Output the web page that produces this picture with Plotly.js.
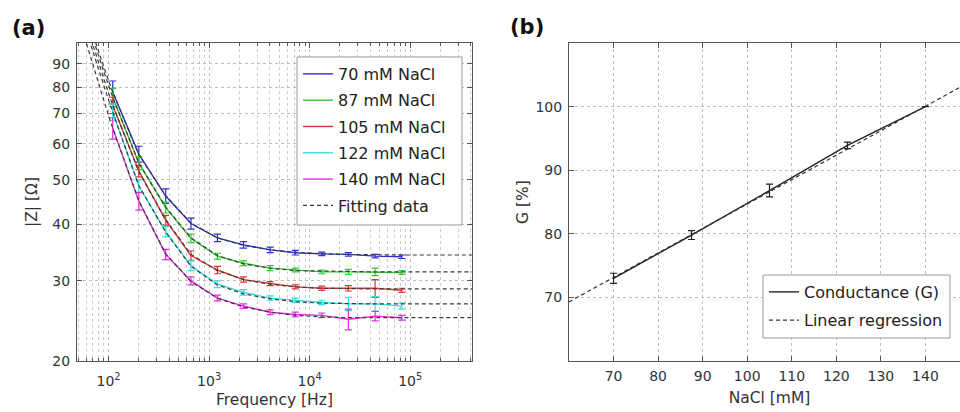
<!DOCTYPE html>
<html><head><meta charset="utf-8">
<script src="https://cdn.plot.ly/plotly-3.0.1.min.js"></script>
<style>html,body{margin:0;padding:0;overflow:hidden;background:#fff;width:960px;height:412px}#chart{width:1000px;height:412px}</style>
</head><body><div id="chart"></div>
<script>
// ---- Panel (a): impedance magnitude vs frequency ----
const freq = [110, 200, 370, 660, 1210, 2200, 4050, 7200, 13200, 24300, 44800, 82600];
const seriesNames = ['70 mM NaCl', '87 mM NaCl', '105 mM NaCl', '122 mM NaCl', '140 mM NaCl'];
const z70  = [78.0, 57.0, 46.1, 40.1, 37.3, 36.0, 35.1, 34.6, 34.4, 34.3, 34.0, 33.9];
const z87  = [76.0, 54.5, 43.5, 37.2, 34.0, 32.8, 32.0, 31.7, 31.4, 31.4, 31.4, 31.3];
const z105 = [73.0, 52.3, 40.8, 34.1, 31.7, 30.2, 29.6, 29.1, 28.9, 28.9, 28.9, 28.6];
const z122 = [70.5, 48.5, 38.5, 32.4, 29.5, 28.3, 27.5, 27.2, 26.9, 26.7, 26.7, 26.4];
const z140 = [65.0, 44.9, 34.3, 30.0, 27.5, 26.4, 25.6, 25.3, 25.2, 24.7, 25.1, 24.9];
const e70  = [4.5, 2.3, 1.7, 1.1, 0.7, 0.6, 0.5, 0.4, 0.3, 0.3, 0.3, 0.3];
const e87  = [3.5, 1.8, 1.2, 0.8, 0.5, 0.4, 0.4, 0.3, 0.3, 0.4, 0.6, 0.3];
const e105 = [3.0, 1.5, 1.0, 0.8, 0.6, 0.4, 0.3, 0.3, 0.3, 0.4, 1.3, 0.3];
const e122 = [3.0, 1.5, 1.0, 0.8, 0.5, 0.4, 0.3, 0.3, 0.3, 0.9, 1.0, 0.4];
const e140 = [3.5, 2.0, 0.9, 0.6, 0.4, 0.3, 0.3, 0.3, 0.3, 1.3, 0.6, 0.3];

const fitFreq = [55, 65, 75, 87, 100, 110, 200, 370, 660, 1210, 2200, 4050, 7200, 13200, 24300, 44800, 82600, 200000, 420000];
const fit70  = [122.8, 109.5, 99.5, 90.3, 82.7, 78.0, 56.8, 46.2, 40.2, 37.3, 35.9, 35.1, 34.7, 34.4, 34.3, 34.2, 34.2, 34.2, 34.2];
const fit87  = [120.6, 107.4, 97.4, 88.3, 80.7, 76.0, 54.4, 43.6, 37.3, 34.1, 32.7, 32.0, 31.6, 31.5, 31.4, 31.4, 31.4, 31.4, 31.4];
const fit105 = [116.5, 103.7, 93.9, 85.0, 77.6, 73.0, 52.1, 40.9, 34.3, 31.6, 30.2, 29.5, 29.1, 28.9, 28.8, 28.8, 28.8, 28.8, 28.8];
const fit122 = [112.9, 100.4, 90.9, 82.2, 74.9, 70.5, 48.6, 38.4, 32.3, 29.4, 28.1, 27.4, 27.0, 26.8, 26.7, 26.7, 26.7, 26.7, 26.7];
const fit140 = [106.7, 94.2, 84.9, 76.4, 69.3, 65.0, 45.0, 34.4, 29.9, 27.5, 26.3, 25.6, 25.2, 25.0, 24.9, 24.9, 24.9, 24.9, 24.9];

const zTickVals = [20, 30, 40, 50, 60, 70, 80, 90];
const fTickVals = [100, 1000, 10000, 100000];
const fTickText = ['10<sup>2</sup>', '10<sup>3</sup>', '10<sup>4</sup>', '10<sup>5</sup>'];

// ---- Panel (b): conductance vs NaCl ----
const nacl = [70, 87.5, 105, 122.5, 140];
const cond = [73.0, 79.8, 86.8, 93.9, 100.0];
const condErr = [0.8, 0.7, 1.0, 0.5, 0.0];
const regX = [60, 150];
const regY = [69.3, 103.9];
const naclTicks = [70, 80, 90, 100, 110, 120, 130, 140];
const gTicks = [70, 80, 90, 100];

const colors = ['#2f2fd0', '#30cc30', '#dc3434', '#30e0e0', '#dc30dc'];
const zData = [z70, z87, z105, z122, z140];
const eData = [e70, e87, e105, e122, e140];
const fitData = [fit70, fit87, fit105, fit122, fit140];

const traces = [];
zData.forEach((ys, i) => {
  traces.push({
    type: 'scatter', mode: 'lines', x: freq, y: ys, name: seriesNames[i],
    line: {color: colors[i], width: 1.4},
    error_y: {type: 'data', array: eData[i], visible: true, color: colors[i], thickness: 1.2, width: 3.5},
    xaxis: 'x', yaxis: 'y', legend: 'legend', legendgroup: 'g' + i
  });
});
fitData.forEach((ys, i) => {
  traces.push({
    type: 'scatter', mode: 'lines', x: fitFreq, y: ys, name: 'Fitting data',
    line: {color: '#3a3a3a', width: 1.2, dash: '4px,3px'},
    xaxis: 'x', yaxis: 'y', legend: 'legend', legendgroup: 'fit', showlegend: i === 0
  });
});
traces.push({
  type: 'scatter', mode: 'lines', x: nacl, y: cond, name: 'Conductance (G)',
  line: {color: '#222', width: 1.4},
  error_y: {type: 'data', array: condErr, visible: true, color: '#222', thickness: 1.2, width: 3.5},
  xaxis: 'x2', yaxis: 'y2', legend: 'legend2', legendgroup: 'c'
});
traces.push({
  type: 'scatter', mode: 'lines', x: regX, y: regY, name: 'Linear regression',
  line: {color: '#333', width: 1.2, dash: '4px,3px'},
  xaxis: 'x2', yaxis: 'y2', legend: 'legend2', legendgroup: 'r'
});

const minorF = [];
for (let k = 1; k <= 5; k++) for (let m = 2; m <= 9; m++) minorF.push(m * Math.pow(10, k));

const axCommon = {
  showline: true, linecolor: '#555', linewidth: 1, mirror: 'ticks',
  ticks: 'inside', ticklen: 5, tickcolor: '#555', tickwidth: 1,
  showgrid: true, gridcolor: '#bdbdbd', griddash: 'dot', gridwidth: 1,
  zeroline: false, automargin: false,
  tickfont: {family: 'DejaVu Sans', size: 14, color: '#333'}
};
const titleFont = {family: 'DejaVu Sans', size: 15.5, color: '#333'};
const legendFont = {family: 'DejaVu Sans', size: 16, color: '#222'};

const layout = {
  width: 1000, height: 412,
  margin: {l: 0, r: 0, t: 0, b: 0},
  paper_bgcolor: '#fff', plot_bgcolor: '#fff',
  font: {family: 'DejaVu Sans', size: 14, color: '#333'},
  xaxis: Object.assign({}, axCommon, {
    type: 'log', range: [1.686, 5.615], domain: [0.077, 0.472], anchor: 'y',
    tickmode: 'array', tickvals: fTickVals, ticktext: fTickText, ticklabelstandoff: 7,
    minor: {tickmode: 'array', tickvals: minorF, ticks: 'inside', ticklen: 3, tickcolor: '#555',
            showgrid: true, gridcolor: '#cccccc', griddash: 'dot', gridwidth: 1},
    title: {text: 'Frequency [Hz]', font: titleFont, standoff: 6}
  }),
  yaxis: Object.assign({}, axCommon, {
    type: 'log', range: [Math.log10(20), 2], domain: [0.1238, 0.8956], anchor: 'x',
    tickmode: 'array', tickvals: zTickVals, ticktext: zTickVals.map(String), ticklabelstandoff: 3,
    title: {text: '|Z| [Ω]', font: titleFont, standoff: 10}
  }),
  xaxis2: Object.assign({}, axCommon, {
    range: [60, 150], domain: [0.569, 0.970], anchor: 'y2',
    tickmode: 'array', tickvals: naclTicks, ticktext: naclTicks.map(String), ticklabelstandoff: 2,
    title: {text: 'NaCl [mM]', font: titleFont, standoff: 9}
  }),
  yaxis2: Object.assign({}, axCommon, {
    range: [60, 110], domain: [0.1238, 0.8956], anchor: 'x2',
    tickmode: 'array', tickvals: gTicks, ticktext: gTicks.map(String), ticklabelstandoff: 3,
    title: {text: 'G [%]', font: titleFont, standoff: 3}
  }),
  legend: {
    x: 0.298, y: 0.8617, xanchor: 'left', yanchor: 'top',
    bgcolor: 'rgba(0,0,0,0)', borderwidth: 0,
    font: legendFont, traceorder: 'grouped', tracegroupgap: 2.5
  },
  legend2: {
    x: 0.764, y: 0.3325, xanchor: 'left', yanchor: 'top',
    bgcolor: 'rgba(0,0,0,0)', borderwidth: 0,
    font: legendFont, traceorder: 'grouped', tracegroupgap: 4.5
  },
  shapes: [
    {type: 'rect', xref: 'paper', yref: 'paper', x0: 0.297, x1: 0.462, y0: 0.4539, y1: 0.8617,
     layer: 'above', fillcolor: '#fff', line: {color: '#9a9a9a', width: 1}},
    {type: 'rect', xref: 'paper', yref: 'paper', x0: 0.763, x1: 0.950, y0: 0.1796, y1: 0.3325,
     layer: 'above', fillcolor: '#fff', line: {color: '#9a9a9a', width: 1}}
  ],
  annotations: [
    {text: '<b>(a)</b>', x: 0.028, y: 0.932, xref: 'paper', yref: 'paper', xanchor: 'center', yanchor: 'middle',
     showarrow: false, font: {family: 'DejaVu Sans', size: 21, color: '#111'}},
    {text: '<b>(b)</b>', x: 0.527, y: 0.935, xref: 'paper', yref: 'paper', xanchor: 'center', yanchor: 'middle',
     showarrow: false, font: {family: 'DejaVu Sans', size: 21, color: '#111'}}
  ],
  showlegend: true
};

Plotly.newPlot('chart', traces, layout, {displayModeBar: false, staticPlot: true});
</script></body></html>
